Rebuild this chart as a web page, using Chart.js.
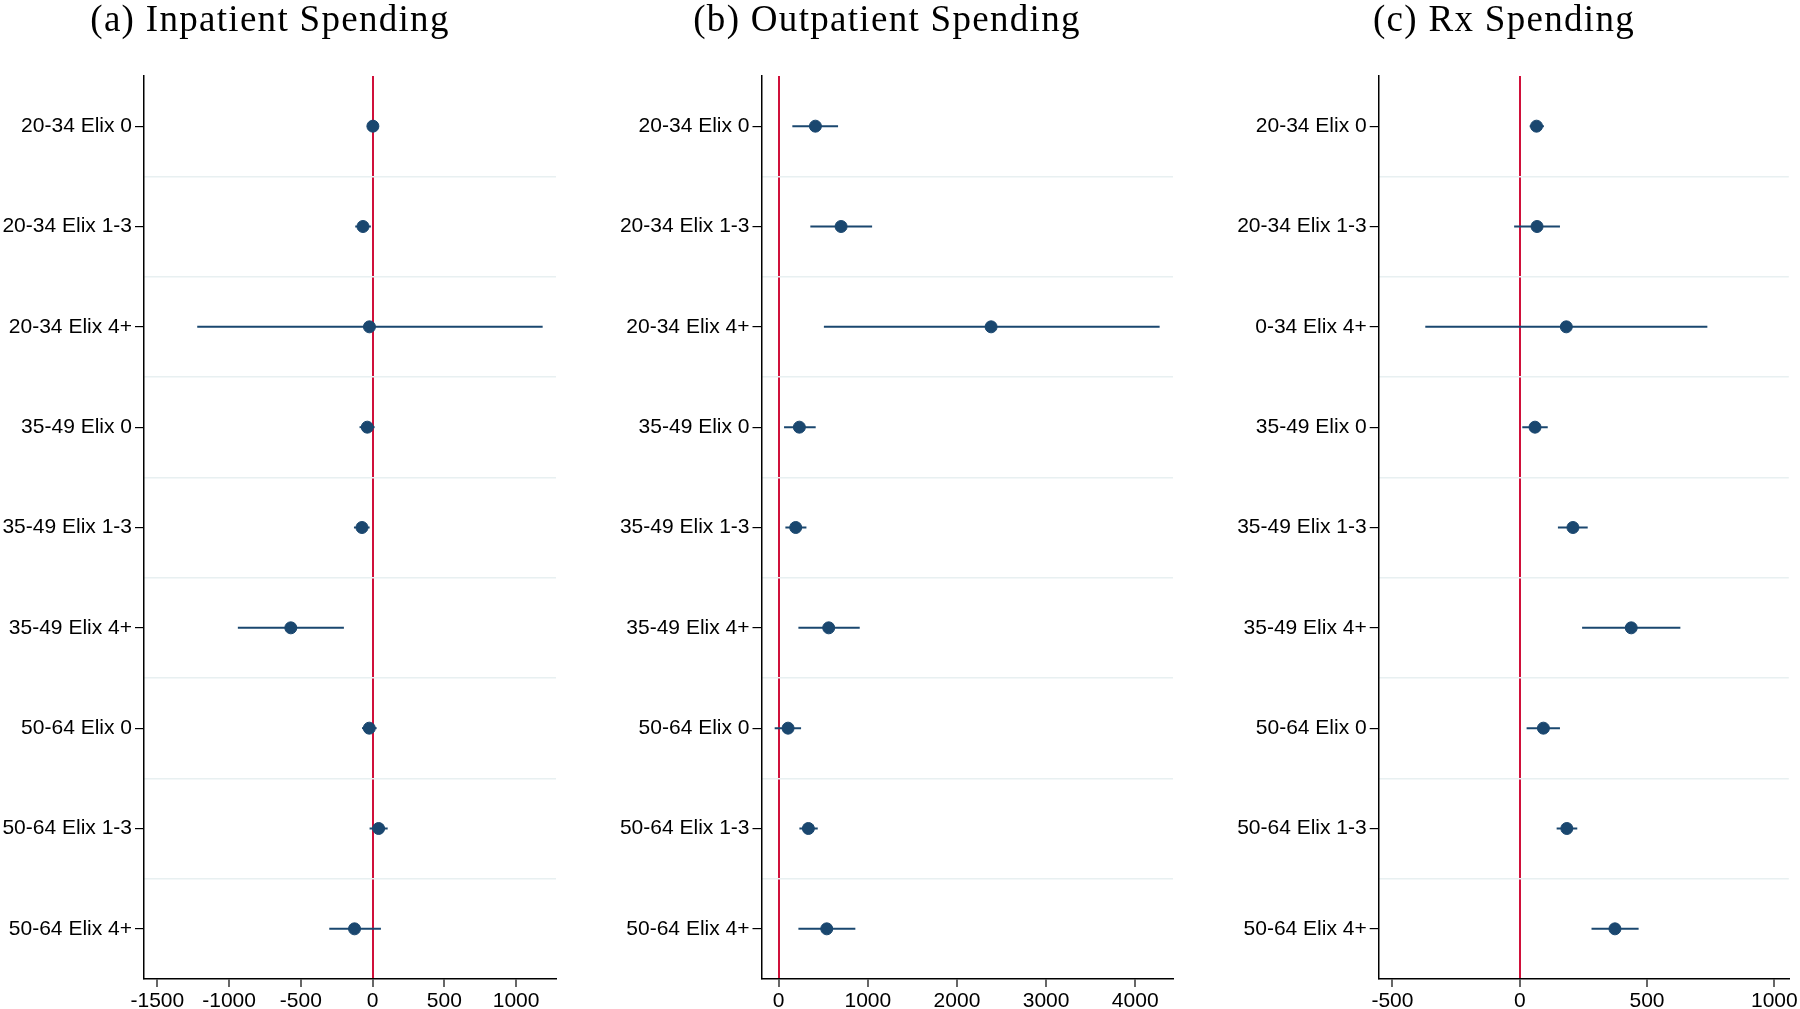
<!DOCTYPE html>
<html>
<head>
<meta charset="utf-8">
<script src="https://cdn.jsdelivr.net/npm/chart.js@4.4.1/dist/chart.umd.min.js"></script>
<style>
    body { margin: 0; background: #fff; }
    #wrap { position: relative; width: 1800px; height: 1009px; overflow: hidden; }
    .panel { position: absolute; top: 0; width: 600px; height: 1009px; }
    .title {
        position: absolute; top: 0; width: 600px; text-align: center;
        font-family: 'Liberation Serif', 'DejaVu Serif', serif; font-size: 37px; line-height: 37px;
        letter-spacing: 1.3px; color: #000; z-index: 2; white-space: nowrap;
    }
</style>
</head>
<body>
<div id="wrap">
    <div class="title" style="left: -30px;">(a) Inpatient Spending</div>
    <div class="title" style="left: 587px;">(b) Outpatient Spending</div>
    <div class="title" style="left: 1204px;">(c) Rx Spending</div>
    <div class="panel" style="left: 0;"><canvas id="chartA" width="600" height="1009"></canvas></div>
    <div class="panel" style="left: 600px;"><canvas id="chartB" width="600" height="1009"></canvas></div>
    <div class="panel" style="left: 1200px;"><canvas id="chartC" width="600" height="1009"></canvas></div>
</div>
<script>
// 行ラベル
const rowLabels = ['20-34 Elix 0', '20-34 Elix 1-3', '20-34 Elix 4+', '35-49 Elix 0', '35-49 Elix 1-3',
    '35-49 Elix 4+', '50-64 Elix 0', '50-64 Elix 1-3', '50-64 Elix 4+'];
const rxRowLabels = ['20-34 Elix 0', '20-34 Elix 1-3', '0-34 Elix 4+', '35-49 Elix 0', '35-49 Elix 1-3',
    '35-49 Elix 4+', '50-64 Elix 0', '50-64 Elix 1-3', '50-64 Elix 4+'];

// (a) 入院
const inpatientEst = [2, -67, -22, -37, -74, -570, -23, 42, -126];
const inpatientLow = [-25, -121, -1222, -91, -130, -939, -74, -21, -302];
const inpatientHigh = [28, -12, 1185, 14, -21, -200, 28, 105, 58];
const inpatientTicks = [-1500, -1000, -500, 0, 500, 1000];

// (b) 外来
const outpatientEst = [412, 700, 2383, 232, 191, 561, 105, 333, 539];
const outpatientLow = [153, 355, 507, 60, 75, 221, -45, 232, 221];
const outpatientHigh = [666, 1048, 4274, 415, 311, 909, 251, 438, 860];
const outpatientTicks = [0, 1000, 2000, 3000, 4000];

// (c) 薬剤
const rxEst = [66, 68, 183, 60, 209, 438, 93, 185, 374];
const rxLow = [39, -22, -371, 10, 150, 245, 27, 145, 282];
const rxHigh = [95, 158, 737, 110, 267, 631, 158, 226, 467];
const rxTicks = [-500, 0, 500, 1000];

const NAVY = '#1a476f';
const RED = '#d0103a';
const SEP = '#e8f0f1';
const TICK_FONT = { family: "'Liberation Sans', Arial, sans-serif", size: 21 };

function buildChart(canvasId, labels, est, low, high, xMin, xMax, xTicks, axisWidth, padRight) {
    const datasets = [];

    // 信頼区間
    for (let i = 0; i < est.length; i++) {
        datasets.push({
            type: 'line',
            data: [{ x: low[i], y: i + 1 }, { x: high[i], y: i + 1 }],
            borderColor: NAVY,
            borderWidth: 2,
            pointRadius: 0,
            order: 2
        });
    }

    // 点推定
    datasets.push({
        type: 'scatter',
        data: est.map((v, i) => ({ x: v, y: i + 1 })),
        backgroundColor: NAVY,
        borderColor: NAVY,
        pointRadius: 6,
        order: 1
    });

    return new Chart(document.getElementById(canvasId), {
        type: 'scatter',
        data: { datasets: datasets },
        options: {
            responsive: false,
            animation: false,
            layout: { padding: { top: 76, bottom: 0, left: 0, right: padRight } },
            plugins: { legend: { display: false }, tooltip: { enabled: false } },
            scales: {
                x: {
                    type: 'linear',
                    min: xMin,
                    max: xMax,
                    afterBuildTicks: function (scale) {
                        scale.ticks = xTicks.map(v => ({ value: v }));
                    },
                    afterFit: function (scale) { scale.height = 30; },
                    border: { display: true, color: '#000', width: 1.5 },
                    grid: {
                        color: ctx => (ctx.tick && ctx.tick.value === 0) ? RED : 'rgba(0,0,0,0)',
                        lineWidth: 2,
                        tickColor: '#000',
                        tickLength: 8,
                        tickWidth: 1.2
                    },
                    ticks: {
                        font: TICK_FONT, color: '#000', padding: 2, maxRotation: 0, autoSkip: false,
                        callback: value => String(value)
                    }
                },
                y: {
                    type: 'linear',
                    reverse: true,
                    min: 0.5,
                    max: 9.5,
                    afterBuildTicks: function (scale) {
                        scale.ticks = labels.map((l, i) => ({ value: i + 1 }));
                    },
                    afterFit: function (scale) { scale.width = axisWidth; },
                    border: { display: true, color: '#000', width: 1.5 },
                    grid: { drawOnChartArea: false, tickLength: 9, color: '#000', lineWidth: 1.2 },
                    ticks: {
                        font: TICK_FONT, color: '#000', padding: 3, autoSkip: false,
                        callback: value => labels[value - 1]
                    }
                },
                // 行間の区切り線
                ySep: {
                    type: 'linear',
                    position: 'left',
                    reverse: true,
                    min: 0.5,
                    max: 9.5,
                    afterBuildTicks: function (scale) {
                        const t = [];
                        for (let i = 1; i < labels.length; i++) t.push({ value: i + 0.5 });
                        scale.ticks = t;
                    },
                    afterFit: function (scale) { scale.width = 0; },
                    border: { display: false },
                    grid: { color: SEP, lineWidth: 1.5, drawTicks: false },
                    ticks: { display: false }
                }
            }
        }
    });
}

buildChart('chartA', rowLabels, inpatientEst, inpatientLow, inpatientHigh, -1593, 1278, inpatientTicks, 144, 44);
buildChart('chartB', rowLabels, outpatientEst, outpatientLow, outpatientHigh, -193, 4424, outpatientTicks, 161.5, 27);
buildChart('chartC', rxRowLabels, rxEst, rxLow, rxHigh, -554, 1057, rxTicks, 178.7, 9.5);
</script>
</body>
</html>
